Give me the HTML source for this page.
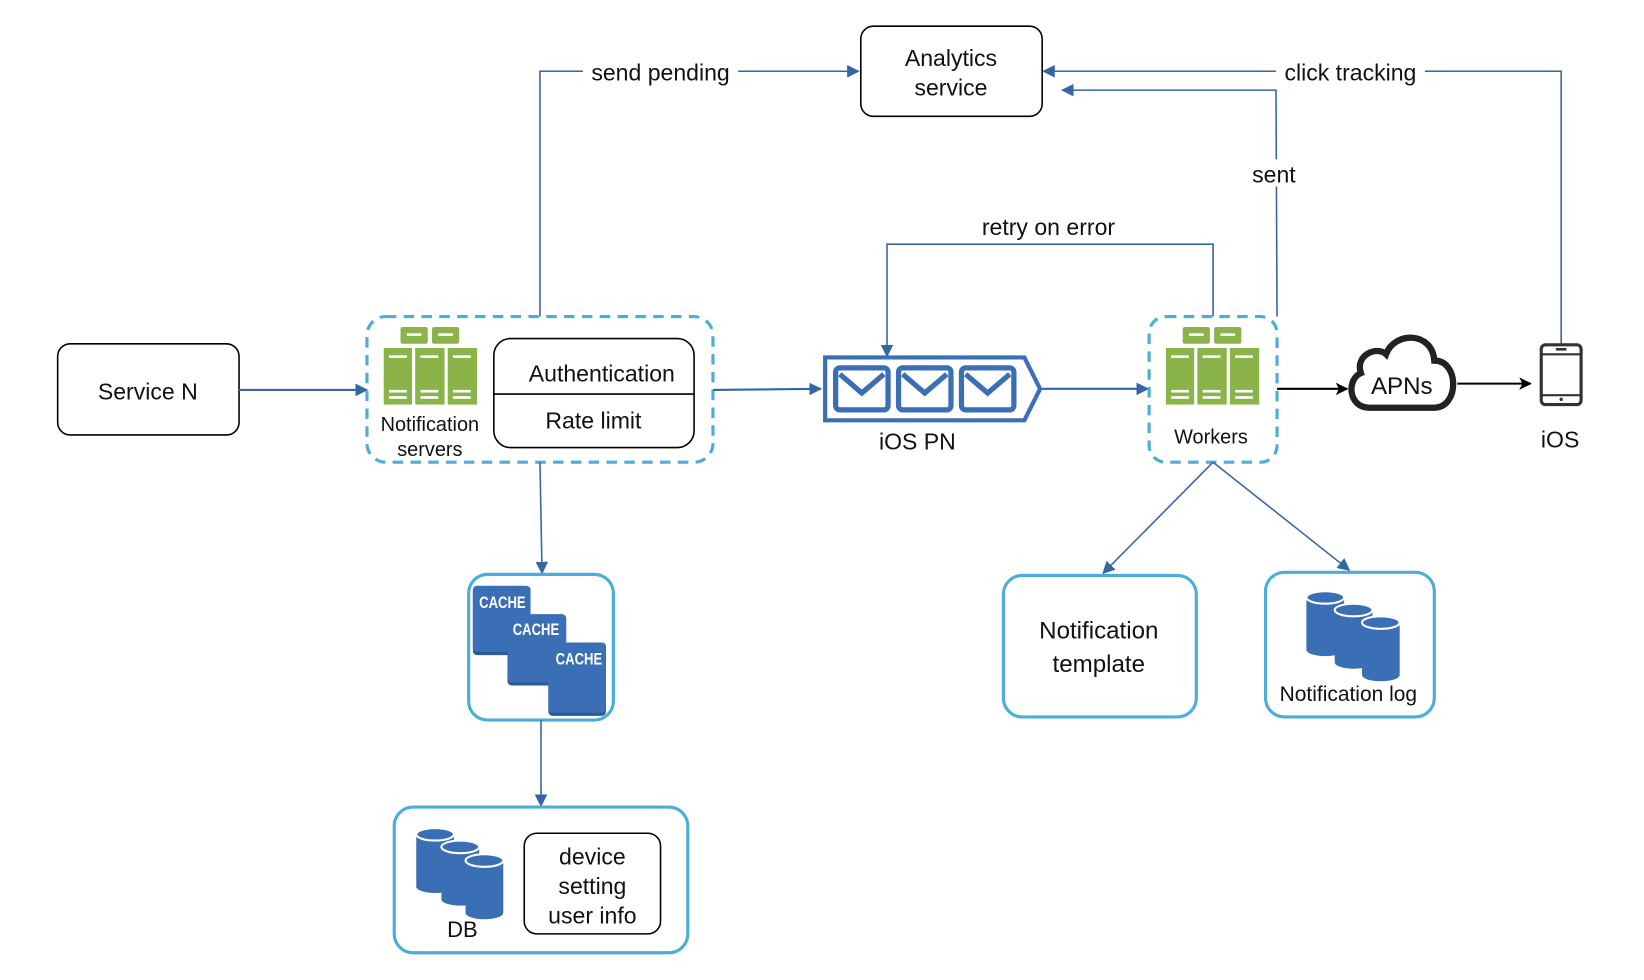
<!DOCTYPE html>
<html><head><meta charset="utf-8"><style>
html,body{margin:0;padding:0;background:#fff;}
svg{display:block;}
text{font-family:"Liberation Sans",sans-serif;fill:#111;}
</style></head><body>
<svg width="1644" height="980" viewBox="0 0 1568 935" preserveAspectRatio="none" xmlns="http://www.w3.org/2000/svg">
<defs>
<marker id="ab" markerWidth="12" markerHeight="12" refX="11" refY="6" orient="auto" markerUnits="userSpaceOnUse"><path d="M0,0 L12,6 L0,12 z" fill="#3465a4"/></marker>
<marker id="ak" markerWidth="12" markerHeight="12" refX="11" refY="6" orient="auto" markerUnits="userSpaceOnUse"><path d="M0,0 L12,6 L0,12 L3,6 z" fill="#000"/></marker>
<g id="srv">
<rect x="16" y="0" width="26" height="16" rx="2" fill="#8ab34a"/>
<rect x="46" y="0" width="26" height="16" rx="2" fill="#8ab34a"/>
<rect x="22" y="6" width="14" height="2.5" fill="#fff"/><rect x="52" y="6" width="14" height="2.5" fill="#fff"/>
<rect x="0" y="20" width="27" height="54" fill="#8ab34a"/>
<rect x="30" y="20" width="28" height="54" fill="#8ab34a"/>
<rect x="61" y="20" width="28" height="54" fill="#8ab34a"/>
<g fill="#fff"><rect x="5" y="27" width="17" height="2.5"/><rect x="35" y="27" width="17" height="2.5"/><rect x="66" y="27" width="17" height="2.5"/>
<rect x="5" y="60" width="17" height="2.5"/><rect x="35" y="60" width="17" height="2.5"/><rect x="66" y="60" width="17" height="2.5"/>
<rect x="5" y="66" width="17" height="2.5"/><rect x="35" y="66" width="17" height="2.5"/><rect x="66" y="66" width="17" height="2.5"/></g>
</g>
<g id="cyl">
<path d="M0,6 v50 a18,6 0 0 0 36,0 v-50 z" fill="#3a6fb5"/>
<ellipse cx="18" cy="6" rx="18" ry="6" fill="#3a6fb5" stroke="#fff" stroke-width="2"/>
</g>
<g id="env">
<rect x="0" y="0" width="50" height="40" rx="4" fill="none" stroke="#3a6fb5" stroke-width="5"/>
<path d="M4,6 L25,24 L46,6" fill="none" stroke="#3a6fb5" stroke-width="5"/>
</g>
</defs>

<rect x="821" y="25" width="173" height="86" rx="12" fill="#fff" stroke="#000" stroke-width="1.5"/>
<text x="907" y="63" font-size="22" text-anchor="middle">Analytics</text>
<text x="907" y="91" font-size="22" text-anchor="middle">service</text>

<rect x="55" y="328" width="173" height="87" rx="12" fill="#fff" stroke="#000" stroke-width="1.5"/>
<text x="141" y="381" font-size="22" text-anchor="middle">Service N</text>
<line x1="228" y1="372" x2="350" y2="372" stroke="#3465a4" stroke-width="2" marker-end="url(#ab)"/>

<rect x="350" y="302" width="330" height="139" rx="18" fill="none" stroke="#4aaed9" stroke-width="3" stroke-dasharray="10,7"/>
<use href="#srv" x="366" y="312"/>
<text x="410" y="411" font-size="19" text-anchor="middle">Notification</text>
<text x="410" y="435" font-size="19" text-anchor="middle">servers</text>
<rect x="471" y="323" width="191" height="104" rx="16" fill="#fff" stroke="#000" stroke-width="1.5"/>
<line x1="471" y1="376" x2="662" y2="376" stroke="#000" stroke-width="1.5"/>
<text x="574" y="364" font-size="22" text-anchor="middle">Authentication</text>
<text x="566" y="409" font-size="22" text-anchor="middle">Rate limit</text>

<polyline points="515,302 515,68 819,68" fill="none" stroke="#3465a4" stroke-width="1.5" marker-end="url(#ab)"/>
<rect x="556" y="56" width="148" height="26" fill="#fff"/>
<text x="630" y="77" font-size="22" text-anchor="middle">send pending</text>

<line x1="680" y1="372" x2="783" y2="371" stroke="#3465a4" stroke-width="2" marker-end="url(#ab)"/>
<path d="M787,341 H977 L992,371 L977,401 H787 z" fill="#fff" stroke="#3a6fb5" stroke-width="4"/>
<use href="#env" x="797" y="351"/>
<use href="#env" x="857" y="351"/>
<use href="#env" x="917" y="351"/>
<text x="875" y="429" font-size="22" text-anchor="middle">iOS PN</text>

<polyline points="1157,302 1157,233 846,233 846,340" fill="none" stroke="#3465a4" stroke-width="1.5" marker-end="url(#ab)"/>
<text x="1000" y="224" font-size="22" text-anchor="middle">retry on error</text>

<line x1="994" y1="371" x2="1095" y2="371" stroke="#3465a4" stroke-width="2" marker-end="url(#ab)"/>

<rect x="1096" y="302" width="122" height="139" rx="16" fill="none" stroke="#4aaed9" stroke-width="3" stroke-dasharray="10,7"/>
<use href="#srv" x="1112" y="312"/>
<text x="1155" y="423" font-size="19" text-anchor="middle">Workers</text>

<polyline points="1218,302 1217,86 1013,86" fill="none" stroke="#3465a4" stroke-width="1.5" marker-end="url(#ab)"/>
<rect x="1190" y="152" width="52" height="26" fill="#fff"/>
<text x="1215" y="174" font-size="22" text-anchor="middle">sent</text>

<polyline points="1489,328 1489,68 995,68" fill="none" stroke="#3465a4" stroke-width="1.5" marker-end="url(#ab)"/>
<rect x="1217" y="56" width="142" height="26" fill="#fff"/>
<text x="1288" y="77" font-size="22" text-anchor="middle">click tracking</text>

<line x1="1218" y1="371" x2="1285" y2="371" stroke="#000" stroke-width="2" marker-end="url(#ak)"/>
<path d="M1306,389 C1286,389 1284,362 1298,356 C1292,338 1314,330 1322,338 C1330,316 1366,316 1368,344 C1392,344 1392,389 1368,389 Z" fill="#fff" stroke="#222" stroke-width="6"/>
<text x="1337" y="376" font-size="23" text-anchor="middle">APNs</text>
<line x1="1390" y1="366" x2="1460" y2="366" stroke="#000" stroke-width="2" marker-end="url(#ak)"/>

<rect x="1470" y="329" width="38" height="57" rx="4" fill="#fff" stroke="#333" stroke-width="3"/>
<line x1="1470" y1="338" x2="1508" y2="338" stroke="#333" stroke-width="2"/>
<line x1="1470" y1="377" x2="1508" y2="377" stroke="#333" stroke-width="2"/>
<rect x="1484" y="332" width="10" height="2.5" fill="#333"/>
<circle cx="1489" cy="381" r="1.6" fill="#333"/>
<text x="1488" y="427" font-size="22" text-anchor="middle">iOS</text>

<line x1="1157" y1="441" x2="1052" y2="547" stroke="#3465a4" stroke-width="1.5" marker-end="url(#ab)"/>
<line x1="1157" y1="441" x2="1287" y2="544" stroke="#3465a4" stroke-width="1.5" marker-end="url(#ab)"/>

<rect x="957" y="549" width="184" height="135" rx="18" fill="#fff" stroke="#4aaed9" stroke-width="3"/>
<text x="1048" y="609" font-size="23" text-anchor="middle">Notification</text>
<text x="1048" y="641" font-size="23" text-anchor="middle">template</text>

<rect x="1207" y="546" width="161" height="138" rx="18" fill="#fff" stroke="#4aaed9" stroke-width="3"/>
<use href="#cyl" x="1246" y="564"/>
<use href="#cyl" x="1273" y="576"/>
<use href="#cyl" x="1299" y="588"/>
<text x="1286" y="669" font-size="20" text-anchor="middle">Notification log</text>

<line x1="515" y1="441" x2="517" y2="547" stroke="#3465a4" stroke-width="1.5" marker-end="url(#ab)"/>
<rect x="447" y="548" width="138" height="139" rx="18" fill="#fff" stroke="#4aaed9" stroke-width="3"/>
<g>
<rect x="451" y="559" width="55" height="66" rx="4" fill="#2b5a96"/>
<rect x="451" y="559" width="55" height="63" rx="4" fill="#3a6fb5"/>
<rect x="484" y="586" width="56" height="68" rx="4" fill="#2b5a96"/>
<rect x="484" y="586" width="56" height="65" rx="4" fill="#3a6fb5"/>
<rect x="523" y="613" width="55" height="70" rx="4" fill="#2b5a96"/>
<rect x="523" y="613" width="55" height="67" rx="4" fill="#3a6fb5"/>
<text x="457" y="580" font-size="16" font-weight="bold" style="fill:#fff" transform="translate(457,580) scale(0.78,1) translate(-457,-580)">CACHE</text>
<text x="489" y="606" font-size="16" font-weight="bold" style="fill:#fff" transform="translate(489,606) scale(0.78,1) translate(-489,-606)">CACHE</text>
<text x="530" y="634" font-size="16" font-weight="bold" style="fill:#fff" transform="translate(530,634) scale(0.78,1) translate(-530,-634)">CACHE</text>
</g>

<line x1="516" y1="687" x2="516" y2="769" stroke="#3465a4" stroke-width="1.5" marker-end="url(#ab)"/>

<rect x="376" y="770" width="280" height="139" rx="18" fill="#fff" stroke="#4aaed9" stroke-width="3"/>
<use href="#cyl" x="397" y="790"/>
<use href="#cyl" x="421" y="802"/>
<use href="#cyl" x="444" y="815"/>
<text x="441" y="894" font-size="21" text-anchor="middle">DB</text>
<rect x="500" y="795" width="130" height="96" rx="12" fill="#fff" stroke="#000" stroke-width="1.5"/>
<text x="565" y="825" font-size="22" text-anchor="middle">device</text>
<text x="565" y="853" font-size="22" text-anchor="middle">setting</text>
<text x="565" y="881" font-size="22" text-anchor="middle">user info</text>
</svg>
</body></html>
